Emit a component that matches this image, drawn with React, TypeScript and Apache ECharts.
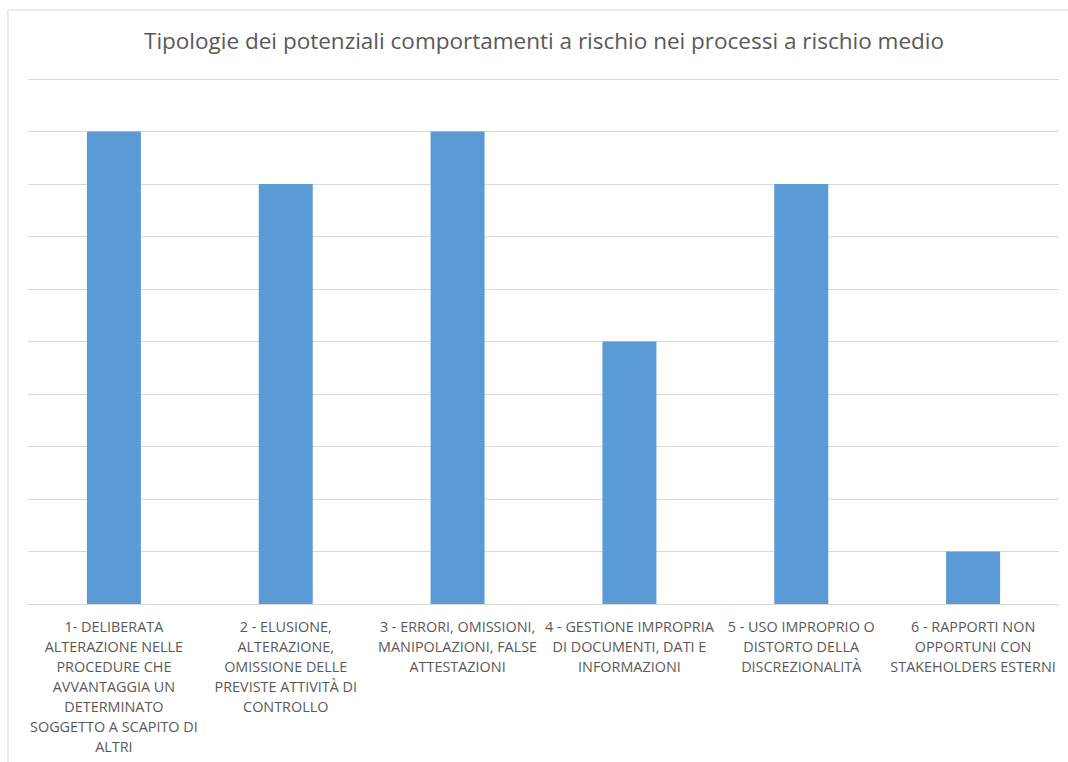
import React, { useEffect, useRef } from "react";
import * as echarts from "echarts";

const titleText = "Tipologie dei potenziali comportamenti a rischio nei processi a rischio medio";
const categories = [
  "1- DELIBERATA\nALTERAZIONE NELLE\nPROCEDURE CHE\nAVVANTAGGIA UN\nDETERMINATO\nSOGGETTO A SCAPITO DI\nALTRI",
  "2 - ELUSIONE,\nALTERAZIONE,\nOMISSIONE DELLE\nPREVISTE ATTIVITÀ DI\nCONTROLLO",
  "3 - ERRORI, OMISSIONI,\nMANIPOLAZIONI, FALSE\nATTESTAZIONI",
  "4 - GESTIONE IMPROPRIA\nDI DOCUMENTI, DATI E\nINFORMAZIONI",
  "5 - USO IMPROPRIO O\nDISTORTO DELLA\nDISCREZIONALITÀ",
  "6 - RAPPORTI NON\nOPPORTUNI CON\nSTAKEHOLDERS ESTERNI",
];
const values = [9, 8, 9, 5, 8, 1];
const yMin = 0;
const yMax = 10;
const yInterval = 1;

const FONT = "'Open Sans', sans-serif";

export default function App() {
  const ref = useRef<HTMLDivElement>(null);
  useEffect(() => {
    if (!ref.current) return;
    const chart = echarts.init(ref.current, undefined, { renderer: "svg" });
    chart.setOption({
      animation: false,
      backgroundColor: "#ffffff",
      title: {
        text: titleText,
        left: 144,
        top: 29,
        padding: 0,
        textStyle: { fontFamily: FONT, fontSize: 22.5, fontWeight: "normal", color: "#595959" },
      },
      graphic: [
        {
          type: "rect",
          shape: { x: 8, y: 10, width: 1200, height: 900 },
          style: { fill: "none", stroke: "#d9d9d9", lineWidth: 1 },
          silent: true,
        },
      ],
      grid: { left: 28, right: 9, top: 79, bottom: 158, containLabel: false },
      xAxis: {
        type: "category",
        data: categories,
        axisLine: { show: true, lineStyle: { color: "#d9d9d9", width: 1 } },
        axisTick: { show: false },
        axisLabel: {
          interval: 0,
          margin: 12,
          fontFamily: FONT,
          fontSize: 14.4,
          lineHeight: 20,
          color: "#595959",
          align: "center",
        },
      },
      yAxis: {
        type: "value",
        min: yMin,
        max: yMax,
        interval: yInterval,
        axisLabel: { show: false },
        axisLine: { show: false },
        axisTick: { show: false },
        splitLine: { show: true, lineStyle: { color: "#d9d9d9", width: 1 } },
      },
      series: [
        {
          type: "bar",
          data: values,
          barWidth: 54,
          itemStyle: { color: "#5b9bd5" },
        },
      ],
    });
    return () => chart.dispose();
  }, []);
  return (
    <div
      ref={ref}
      style={{ position: "absolute", left: 0, top: 0, width: 1068, height: 762 }}
    />
  );
}
